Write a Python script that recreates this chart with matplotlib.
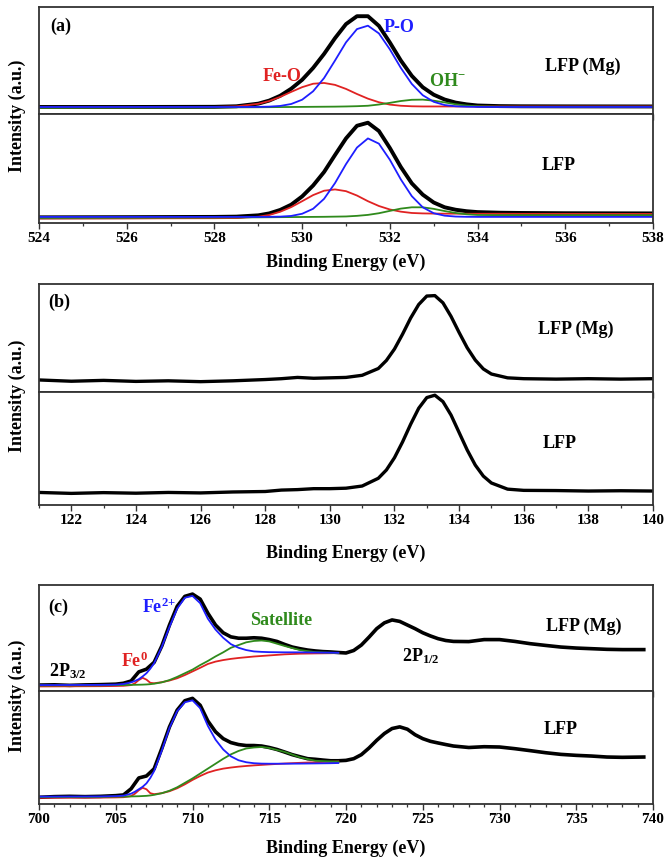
import matplotlib
matplotlib.use("Agg")
import matplotlib.pyplot as plt
from matplotlib.ticker import MultipleLocator

plt.rcParams["font.family"] = ["Liberation Serif", "DejaVu Serif"]
plt.rcParams["font.weight"] = "bold"
plt.rcParams["mathtext.fontset"] = "custom"
plt.rcParams["mathtext.rm"] = "Liberation Serif:bold"
plt.rcParams["mathtext.bf"] = "Liberation Serif:bold"
plt.rcParams["mathtext.it"] = "Liberation Serif:bold"

RED = "#e02222"
BLUE = "#1e1eff"
GREEN = "#2f8a1c"

# ---- (a) O 1s -------------------------------------------------------------
A_X = [524.0, 526.0, 528.0, 528.5, 529.0, 529.25, 529.5, 529.75, 530.0, 530.25,
       530.5, 530.75, 531.0, 531.25, 531.5, 531.75, 532.0, 532.25, 532.5, 532.75,
       533.0, 533.25, 533.5, 533.75, 534.0, 534.5, 535.0, 536.0, 538.0]

A_MG_DATA = [0.0, 0.0, 0.002, 0.008, 0.038, 0.073, 0.128, 0.208, 0.31, 0.445,
             0.605, 0.785, 0.945, 1.035, 1.035, 0.925, 0.735, 0.53, 0.355, 0.225,
             0.14, 0.085, 0.05, 0.03, 0.017, 0.01, 0.008, 0.007, 0.006]
A_MG_PO = [0, 0, 0, 0, 0.001, 0.004, 0.012, 0.034, 0.083, 0.179,
           0.33, 0.53, 0.737, 0.888, 0.927, 0.839, 0.657, 0.446, 0.263, 0.134,
           0.059, 0.022, 0.008, 0.003, 0.001, 0, 0, 0, 0]
A_MG_FEO = [-0.005, -0.004, 0.001, 0.007, 0.036, 0.068, 0.115, 0.172, 0.226, 0.265,
            0.274, 0.252, 0.206, 0.148, 0.095, 0.054, 0.027, 0.014, 0.008, 0.006,
            0.006, 0.006, 0.006, 0.006, 0.006, 0.006, 0.006, 0.006, 0.006]
A_MG_OH = [-0.01, -0.008, -0.005, -0.004, -0.003, -0.002, -0.001, 0.0, 0.001, 0.002,
           0.003, 0.004, 0.006, 0.009, 0.014, 0.028, 0.047, 0.068, 0.082, 0.084,
           0.072, 0.052, 0.031, 0.016, 0.008, 0.003, 0.002, 0.002, 0.002]

A_LFP_DATA = [-0.005, -0.003, 0.0, 0.003, 0.018, 0.04, 0.08, 0.14, 0.235, 0.36,
              0.515, 0.71, 0.9, 1.045, 1.08, 0.985, 0.79, 0.572, 0.385, 0.255,
              0.165, 0.11, 0.082, 0.065, 0.055, 0.048, 0.045, 0.042, 0.04]
A_LFP_PO = [0, 0, 0, 0, 0.0, 0.001, 0.003, 0.011, 0.036, 0.093,
            0.207, 0.388, 0.605, 0.795, 0.9, 0.84, 0.655, 0.43, 0.238, 0.11,
            0.042, 0.014, 0.004, 0.001, 0, 0, 0, 0, 0]
A_LFP_FEO = [-0.018, -0.017, -0.015, -0.013, 0.002, 0.022, 0.059, 0.112, 0.18, 0.25,
             0.30, 0.315, 0.295, 0.245, 0.18, 0.125, 0.085, 0.06, 0.045, 0.04,
             0.038, 0.037, 0.037, 0.036, 0.036, 0.036, 0.035, 0.035, 0.034]
A_LFP_OH = [-0.012, -0.01, -0.008, -0.006, -0.005, -0.004, -0.003, -0.002, -0.001, 0.0,
            0.001, 0.003, 0.005, 0.012, 0.023, 0.042, 0.069, 0.095, 0.11, 0.11,
            0.092, 0.067, 0.045, 0.03, 0.022, 0.02, 0.02, 0.02, 0.02]

# ---- (b) P 2p -------------------------------------------------------------
B_X = [121, 122, 123, 124, 125, 126, 127, 128, 128.5, 129, 129.5, 130, 130.5,
       131, 131.5, 131.75, 132, 132.25, 132.5, 132.75, 133, 133.25, 133.5,
       133.75, 134, 134.25, 134.5, 134.75, 135, 135.5, 136, 137, 138, 139, 140]
B_MG = [0.005, -0.01, 0.0, -0.012, -0.005, -0.015, -0.005, 0.01, 0.02, 0.035, 0.025,
        0.03, 0.035, 0.06, 0.14, 0.235, 0.37, 0.545, 0.735, 0.895, 0.995, 1.0,
        0.915, 0.755, 0.565, 0.385, 0.24, 0.135, 0.075, 0.03, 0.02, 0.015, 0.02,
        0.015, 0.02]
B_LFP = [-0.01, -0.02, -0.012, -0.018, -0.01, -0.015, -0.005, 0.0, 0.015, 0.02, 0.03,
         0.03, 0.035, 0.058, 0.14, 0.228, 0.358, 0.525, 0.712, 0.882, 0.995, 1.02,
         0.952, 0.81, 0.625, 0.44, 0.28, 0.163, 0.09, 0.025, 0.012, 0.01, 0.005,
         0.008, 0.005]
B_TICKS = [122, 124, 126, 128, 130, 132, 134, 136, 138, 140]

# ---- (c) Fe 2p ------------------------------------------------------------
C_X = [700, 701, 702, 703, 704, 705, 705.5, 706, 706.5, 707, 707.5, 708, 708.5,
       709, 709.5, 710, 710.5, 711, 711.5, 712, 712.5, 713, 713.5, 714, 714.5,
       715, 715.5, 716, 716.5, 717, 717.5, 718, 718.5, 719, 719.5, 720, 720.5,
       721, 721.5, 722, 722.5, 723, 723.5, 724, 724.5, 725, 725.5, 726, 726.5,
       727, 728, 729, 730, 731, 732, 733, 734, 735, 736, 737, 738, 739.4]
C_MG_DATA = [0.0, 0.003, -0.003, 0.002, 0.005, 0.01, 0.02, 0.045, 0.145, 0.175,
             0.25, 0.43, 0.66, 0.865, 0.975, 1.0, 0.945, 0.79, 0.66, 0.575,
             0.53, 0.515, 0.515, 0.52, 0.515, 0.5, 0.48, 0.447, 0.418, 0.4,
             0.385, 0.375, 0.368, 0.364, 0.358, 0.353, 0.38, 0.44, 0.527, 0.62,
             0.684, 0.716, 0.7, 0.66, 0.62, 0.575, 0.54, 0.51, 0.49, 0.48,
             0.478, 0.5, 0.5, 0.48, 0.455, 0.436, 0.418, 0.407, 0.4, 0.393,
             0.39, 0.39]
C_LFP_DATA = [-0.007, 0.0, 0.003, 0.0, 0.003, 0.01, 0.017, 0.08, 0.19, 0.21,
              0.283, 0.49, 0.71, 0.88, 0.976, 1.0, 0.93, 0.77, 0.66, 0.59,
              0.55, 0.53, 0.52, 0.52, 0.515, 0.5, 0.48, 0.454, 0.427, 0.406,
              0.386, 0.38, 0.372, 0.365, 0.365, 0.369, 0.386, 0.427, 0.495, 0.573,
              0.642, 0.693, 0.71, 0.686, 0.63, 0.59, 0.563, 0.546, 0.53, 0.515,
              0.5, 0.508, 0.505, 0.488, 0.468, 0.447, 0.43, 0.42, 0.413, 0.403,
              0.4, 0.403]

CF_X = [700, 704, 705, 705.5, 706, 706.25, 706.5, 706.75, 707, 707.25, 707.5,
        708, 708.5, 709, 709.5, 710, 710.5, 711, 711.5, 712, 712.5, 713, 713.5,
        714, 714.5, 715, 716, 717, 718, 719, 719.5]
C_MG_FE2 = [0, 0.002, 0.005, 0.012, 0.03, 0.045, 0.065, 0.095, 0.13, 0.18, 0.24,
            0.42, 0.64, 0.84, 0.96, 0.98, 0.9, 0.73, 0.61, 0.52, 0.45, 0.41, 0.385,
            0.37, 0.365, 0.362, 0.36, 0.36, 0.358, 0.356, 0.355]
C_MG_FE0 = [-0.015, -0.012, -0.01, -0.008, 0.0, 0.02, 0.055, 0.08, 0.06, 0.025, 0.02,
            0.032, 0.05, 0.075, 0.11, 0.15, 0.19, 0.232, 0.258, 0.275, 0.288, 0.298,
            0.306, 0.314, 0.32, 0.326, 0.338, 0.345, 0.348, 0.35, 0.352]
C_MG_SAT = [-0.005, -0.003, 0.0, 0.0, 0.002, 0.003, 0.004, 0.005, 0.007, 0.01, 0.015,
            0.03, 0.055, 0.09, 0.13, 0.17, 0.22, 0.265, 0.315, 0.36, 0.41, 0.44,
            0.47, 0.485, 0.49, 0.48, 0.43, 0.385, 0.362, 0.355, 0.353]
C_LFP_FE2 = [0, 0.002, 0.005, 0.01, 0.03, 0.05, 0.075, 0.1, 0.135, 0.19, 0.26,
             0.47, 0.7, 0.87, 0.96, 0.98, 0.9, 0.72, 0.58, 0.48, 0.41, 0.37, 0.35,
             0.34, 0.336, 0.335, 0.335, 0.336, 0.338, 0.34, 0.342]
C_LFP_FE0 = [-0.012, -0.01, -0.008, -0.006, 0.005, 0.03, 0.065, 0.09, 0.075, 0.035,
             0.025, 0.035, 0.055, 0.085, 0.125, 0.17, 0.21, 0.245, 0.268, 0.285,
             0.296, 0.305, 0.312, 0.318, 0.323, 0.328, 0.337, 0.344, 0.35, 0.355,
             0.358]
C_LFP_SAT = [-0.005, -0.003, 0.0, 0.0, 0.002, 0.003, 0.004, 0.006, 0.008, 0.012,
             0.018, 0.035, 0.06, 0.095, 0.14, 0.185, 0.235, 0.285, 0.335, 0.385,
             0.43, 0.465, 0.49, 0.5, 0.505, 0.495, 0.455, 0.4, 0.365, 0.358, 0.356]

W, H = 665, 862
LEFT, RIGHT = 39, 653


def add_ax(fig, top, bottom):
    return fig.add_axes([LEFT / W, 1 - bottom / H, (RIGHT - LEFT) / W, (bottom - top) / H])


def style(ax, xlim, ylim, major, minor, labels):
    ax.set_xlim(*xlim)
    ax.set_ylim(*ylim)
    ax.set_yticks([])
    ax.xaxis.set_major_locator(MultipleLocator(major))
    ax.xaxis.set_minor_locator(MultipleLocator(minor))
    ax.tick_params(axis="x", which="major", direction="out", length=4, width=1.0,
                   labelsize=11, pad=2, color="#333333")
    ax.tick_params(axis="x", which="minor", direction="out", length=2.5, width=0.9,
                   color="#333333")
    if not labels:
        ax.tick_params(axis="x", which="both", labelbottom=False)
    for s in ax.spines.values():
        s.set_linewidth(1.3)
        s.set_color("#333333")


def tag(ax, x, y, s, color="black", size=13, ha="center"):
    ax.text(x, y, s, color=color, fontsize=size, fontweight="bold", ha=ha, va="center")


fig = plt.figure(figsize=(W / 100, H / 100), dpi=100)

# (a)
a1 = add_ax(fig, 8, 115)
a2 = add_ax(fig, 115, 224)
for ax, d, po, feo, oh in [(a1, A_MG_DATA, A_MG_PO, A_MG_FEO, A_MG_OH),
                           (a2, A_LFP_DATA, A_LFP_PO, A_LFP_FEO, A_LFP_OH)]:
    ax.plot(A_X, d, color="black", lw=2.8)
    ax.plot(A_X, feo, color=RED, lw=1.3)
    ax.plot(A_X, oh, color=GREEN, lw=1.3)
    ax.plot(A_X, po, color=BLUE, lw=1.3)
style(a1, (524, 538), (-0.08, 1.14), 2, 1, False)
style(a2, (524, 538), (-0.07, 1.18), 2, 1, True)
tag(a1, 524.25, 0.93, "(a)", ha="left")
tag(a1, 531.85, 0.92, "P-O", color=BLUE, ha="left")
tag(a1, 529.55, 0.36, "Fe-O", color=RED)
tag(a1, 532.9, 0.3, "OH$^{\\mathregular{-}}$", color=GREEN, ha="left")
tag(a1, 536.4, 0.47, "LFP (Mg)")
tag(a2, 535.85, 0.6, "LFP")

# (b)
b1 = add_ax(fig, 285, 393)
b2 = add_ax(fig, 393, 506)
b1.plot(B_X, B_MG, color="black", lw=2.4)
b2.plot(B_X, B_LFP, color="black", lw=2.4)
style(b1, (121, 140), (-0.137, 1.137), 2, 1, False)
style(b2, (121, 140), (-0.143, 1.054), 2, 1, True)
b1.set_xticks(B_TICKS)
b2.set_xticks(B_TICKS)
tag(b1, 121.3, 0.93, "(b)", ha="left")
tag(b1, 137.6, 0.61, "LFP (Mg)")
tag(b2, 137.1, 0.52, "LFP")

# (c)
c1 = add_ax(fig, 586, 692)
c2 = add_ax(fig, 692, 805)
for ax, d, fe2, fe0, sat in [(c1, C_MG_DATA, C_MG_FE2, C_MG_FE0, C_MG_SAT),
                             (c2, C_LFP_DATA, C_LFP_FE2, C_LFP_FE0, C_LFP_SAT)]:
    ax.plot(C_X, d, color="black", lw=2.6)
    ax.plot(CF_X, fe0, color=RED, lw=1.3)
    ax.plot(CF_X, sat, color=GREEN, lw=1.3)
    ax.plot(CF_X, fe2, color=BLUE, lw=1.3)
style(c1, (700, 740), (-0.065, 1.1), 5, 1, False)
style(c2, (700, 740), (-0.075, 1.075), 5, 1, True)
tag(c1, 700.6, 0.86, "(c)", ha="left")
tag(c1, 707.8, 0.87, "Fe$^{\\mathregular{2{+}}}$", color=BLUE)
tag(c1, 715.8, 0.72, "Satellite", color=GREEN)
tag(c1, 706.2, 0.27, "Fe$^{\\mathregular{0}}$", color=RED)
tag(c1, 701.9, 0.16, "2P$_{\\mathregular{3/2}}$")
tag(c1, 735.5, 0.66, "LFP (Mg)")
tag(c1, 724.9, 0.33, "2P$_{\\mathregular{1/2}}$")
tag(c2, 734.0, 0.69, "LFP")

# shared labels
xc = (LEFT + RIGHT) / 2 / W
for y in (262, 553, 848):
    fig.text(xc, 1 - y / H, "Binding Energy (eV)", ha="center", va="center",
             fontsize=13, fontweight="bold")
for top, bottom in ((8, 224), (285, 506), (586, 805)):
    fig.text(17 / W, 1 - (top + bottom) / 2 / H, "Intensity (a.u.)", rotation=90,
             ha="center", va="center", fontsize=13, fontweight="bold")

fig.savefig("out.png", dpi=100)
